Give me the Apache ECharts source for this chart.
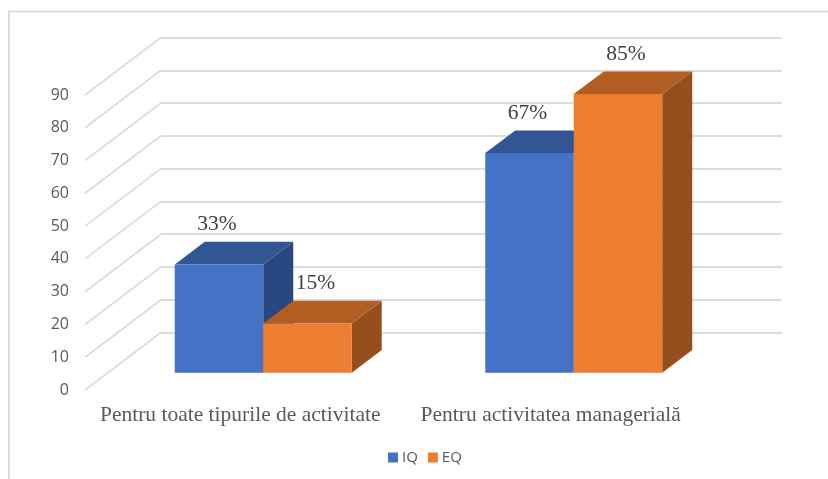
<!DOCTYPE html>
<html>
<head>
<meta charset="utf-8">
<style>
  html, body { margin: 0; padding: 0; background: #fff; }
  #chart { width: 828px; height: 479px; }
</style>
<script src="https://cdn.jsdelivr.net/npm/echarts@6/dist/echarts.min.js"></script>
</head>
<body>
<div id="chart"></div>
<script>
const categories = ["Pentru toate tipurile de activitate", "Pentru activitatea managerială"];
const seriesNames = ["IQ", "EQ"];
const iqValues = [33, 67];
const eqValues = [15, 85];
const axisTicks = [0, 10, 20, 30, 40, 50, 60, 70, 80, 90];

const colors = {
  IQ: { front: "#4472C4", top: "#325594", side: "#2A4880" },
  EQ: { front: "#ED7D31", top: "#B25E22", side: "#954F1C" },
};
const lineColor = "#DCDCDC";

// 3d look: the floor goes back by this much, bars stand in the middle of it
const wallDx = 76;
const wallDy = -57.5;
const barDepthX = 30;
const barDepthY = -22.7;
const barShiftX = 23;
const barShiftY = -17.3;
const barWidth = 88.5;

function poly(points, fill) {
  return { type: "polygon", shape: { points }, style: { fill } };
}

function barSeries(name, values, index) {
  const c = colors[name];
  const labelDx = index === 0 ? -2 : 8;
  return {
    name,
    type: "custom",
    xAxisIndex: 0,
    yAxisIndex: 0,
    encode: { x: 0, y: 1 },
    z: index === 0 ? 3 : 4,
    itemStyle: { color: c.front },
    data: values.map((v, i) => [i, v]),
    renderItem: (params, api) => {
      const base = api.coord([api.value(0), 0]);
      const top = api.coord([api.value(0), api.value(1)]);
      const x0 = base[0] + barShiftX + (index === 0 ? -barWidth : 0);
      const x1 = x0 + barWidth;
      const y0 = base[1] + barShiftY;
      const y1 = top[1] + barShiftY;
      const dx = barDepthX;
      const dy = barDepthY;
      return {
        type: "group",
        children: [
          poly([[x1, y1], [x1 + dx, y1 + dy], [x1 + dx, y0 + dy], [x1, y0]], c.side),
          poly([[x0, y1], [x0 + dx, y1 + dy], [x1 + dx, y1 + dy], [x1, y1]], c.top),
          { type: "rect", shape: { x: x0, y: y1, width: barWidth, height: y0 - y1 }, style: { fill: c.front } },
          {
            type: "text",
            z2: 10,
            style: {
              text: api.value(1) + "%",
              x: (x0 + x1) / 2 + labelDx,
              y: y1 + dy - 17.5,
              align: "center",
              verticalAlign: "middle",
              fill: "#404040",
              font: '21.5px "Liberation Serif"',
            },
          },
        ],
      };
    },
  };
}

const chart = echarts.init(document.getElementById("chart"), null, { renderer: "canvas" });
chart.setOption({
  animation: false,
  backgroundColor: "#fff",
  graphic: [
    {
      // chart frame, cropped at the right and bottom of the picture
      type: "polyline",
      silent: true,
      z: -1,
      shape: { points: [[9, 479], [9, 11.5], [828, 11.5]] },
      style: { fill: "none", stroke: lineColor, lineWidth: 2 },
    },
  ],
  legend: {
    top: 450,
    left: 388,
    padding: 0,
    data: seriesNames,
    icon: "rect",
    itemWidth: 10,
    itemHeight: 10,
    itemGap: 10,
    textStyle: { color: "#595959", fontFamily: "Open Sans", fontSize: 15, padding: [0, 0, 0, -1] },
  },
  grid: [
    { left: 85, width: 621, top: 95, height: 295 },
    { left: 161, width: 621, top: 37.5, height: 295 },
  ],
  xAxis: [
    {
      type: "category",
      gridIndex: 0,
      data: categories,
      axisLine: { show: false },
      axisTick: { show: false },
      axisLabel: {
        interval: 0,
        margin: 14,
        color: "#595959",
        fontFamily: "Liberation Serif",
        fontSize: 21.5,
      },
    },
    { type: "category", gridIndex: 1, data: categories, show: false },
  ],
  yAxis: [
    {
      type: "value",
      gridIndex: 0,
      min: 0,
      max: 90,
      interval: 10,
      axisLine: { show: false },
      axisTick: { show: false },
      splitLine: { show: false },
      axisLabel: { margin: 16, color: "#595959", fontFamily: "Open Sans", fontSize: 16 },
    },
    {
      type: "value",
      gridIndex: 1,
      min: 0,
      max: 90,
      interval: 10,
      axisLine: { show: false },
      axisTick: { show: false },
      axisLabel: { show: false },
      splitLine: { show: true, lineStyle: { color: lineColor, width: 1.8 } },
    },
  ],
  series: [
    {
      // side wall lines from the value labels back to the rear wall
      name: "wall",
      type: "custom",
      xAxisIndex: 0,
      yAxisIndex: 0,
      silent: true,
      z: 1,
      encode: { y: 0 },
      data: axisTicks.map((t) => [t]),
      renderItem: (params, api) => {
        const y = api.coord([0, api.value(0)])[1];
        const x = params.coordSys.x;
        return {
          type: "line",
          shape: { x1: x, y1: y, x2: x + wallDx, y2: y + wallDy },
          style: { stroke: lineColor, lineWidth: 1.8 },
        };
      },
    },
    barSeries("IQ", iqValues, 0),
    barSeries("EQ", eqValues, 1),
  ],
});
</script>
</body>
</html>
